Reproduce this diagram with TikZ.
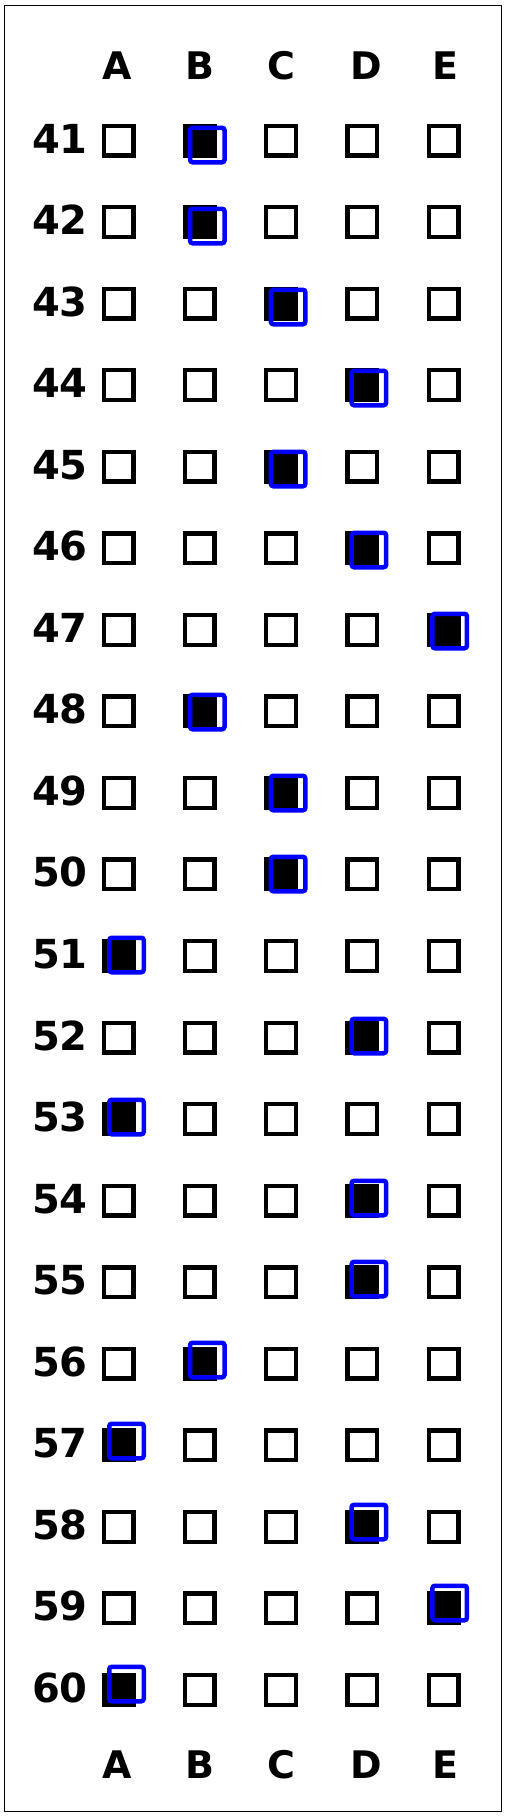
\documentclass[tikz,border=0pt]{standalone}
\usepackage{fontspec}
\usepackage{tikz}
\usetikzlibrary{positioning}
\newfontfamily\sheetfont{DejaVu Sans}
\definecolor{penblue}{RGB}{0,0,255}

\begin{document}
\begin{tikzpicture}[x=1pt, y=-1pt,
  optbox/.style={draw, line width=4.3pt, minimum size=29.7pt, inner sep=0pt},
  marked/.style={optbox, fill=black},
  answer/.style={draw=penblue, line width=4.5pt, minimum size=34.5pt, inner sep=0pt, rounded corners=2.5pt},
  colhead/.style={font=\sheetfont\bfseries\fontsize{38pt}{40pt}\selectfont, anchor=base, inner sep=0pt},
  rownum/.style={font=\sheetfont\bfseries\fontsize{40pt}{42pt}\selectfont, anchor=base east, inner sep=0pt}]

  % Page
  \fill[white] (0,0) rectangle (507,1818);
  \useasboundingbox (0,0) rectangle (507,1818);
  \draw[line width=1pt] (4.5,5.5) rectangle (501.5,1811.5);

  % Column letters
  \foreach \c/\x in {A/117.5, B/200, C/281.5, D/366, E/445.5} {
    \node[colhead] (top\c) at (\x,79.5) {\c};
    \node[colhead] (bot\c) at (\x,1778) {\c};
  }

  % Rows of boxes
  \foreach \r [count=\i from 0] in {41,...,60} {
    \node[rownum] (n\r) at (88,153+81.55*\i) {\r};
    \foreach \c [count=\k from 0] in {A,B,C,D,E} {
      \node[optbox] (\r\c) at (118.5+81.25*\k,140.5+81.55*\i) {};
    }
  }

  % Filled answers and the blue check marks
  \foreach \r/\c/\k in {41/B/1, 42/B/1, 43/C/2, 44/D/3, 45/C/2, 46/D/3, 47/E/4,
                        48/B/1, 49/C/2, 50/C/2, 51/A/0, 52/D/3, 53/A/0, 54/D/3,
                        55/D/3, 56/B/1, 57/A/0, 58/D/3, 59/E/4, 60/A/0} {
    \node[marked] (f\r) at (\r\c) {};
    \node[answer] (ans\r) at ({126.5+80.8*\k},{145+81*(\r-41)}) {};
  }

\end{tikzpicture}
\end{document}
